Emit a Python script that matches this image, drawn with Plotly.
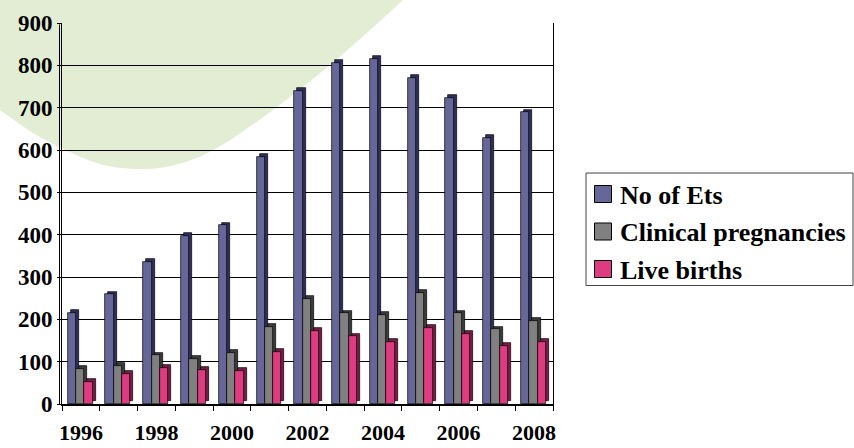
import plotly.graph_objects as go

# ---- data -------------------------------------------------------------
years = [1996, 1997, 1998, 1999, 2000, 2001, 2002, 2003, 2004, 2005, 2006, 2007, 2008]
series_names = ["No of Ets", "Clinical pregnancies", "Live births"]
no_of_ets = [215, 259, 335, 398, 422, 583, 739, 806, 815, 771, 724, 628, 689]
clinical_pregnancies = [83, 90, 115, 106, 120, 182, 248, 214, 211, 263, 214, 176, 196]
live_births = [52, 71, 86, 80, 78, 124, 172, 160, 147, 180, 165, 137, 146]
y_ticks = [0, 100, 200, 300, 400, 500, 600, 700, 800, 900]

# ---- geometry / style -------------------------------------------------
W, H = 854, 448
L, R, T, B = 62, 301, 23, 44
PW, PH = W - L - R, H - T - B

def px(x):
    return (x - L) / PW

def py(y):
    return (H - B - y) / PH

FONT = "Liberation Serif"
BW = 0.22          # front face width (category units)
DX = 0.08          # depth shift to the right (category units)
DY = 6.5           # depth shift upward (value units)

styles = [
    # offset, front colour, depth colour
    (-0.24, "#666699", "#2f2f5c"),
    (-0.02, "#808080", "#3c3c3c"),
    (0.20, "#DD3C80", "#7a1d46"),
]
all_values = [no_of_ets, clinical_pregnancies, live_births]

idx = list(range(len(years)))
fig = go.Figure()

for name, values, (off, face, depth) in zip(series_names, all_values, styles):
    # depth (side + top) drawn first, front face on top of it
    fig.add_bar(
        x=[i + off + DX for i in idx], y=values, base=[DY] * len(values),
        width=BW, marker=dict(color=depth, line=dict(color="black", width=0.7)),
        showlegend=False, hoverinfo="skip",
    )
    fig.add_bar(
        x=[i + off for i in idx], y=values, width=BW, name=name,
        marker=dict(color=face, line=dict(color="black", width=0.7)),
        showlegend=False,
    )

# ---- decorative background curve (smoothed with Catmull-Rom) ----------
knots = [(-20, 95), (0, 110), (33, 133), (63, 149), (100, 164), (137, 169),
         (175, 165), (217, 148), (277, 107), (330, 65), (378, 23), (403, 0),
         (420, -15)]

def smooth(points, steps=12):
    out = []
    for k in range(1, len(points) - 2):
        p0, p1, p2, p3 = points[k - 1], points[k], points[k + 1], points[k + 2]
        for s in range(steps):
            t = s / steps
            t2, t3 = t * t, t * t * t
            out.append(tuple(
                0.5 * (2 * p1[j] + (-p0[j] + p2[j]) * t
                       + (2 * p0[j] - 5 * p1[j] + 4 * p2[j] - p3[j]) * t2
                       + (-p0[j] + 3 * p1[j] - 3 * p2[j] + p3[j]) * t3)
                for j in range(2)))
    out.append(points[-2])
    return out

path = "M {:.5f},{:.5f} ".format(px(0), py(0))
for cx, cy in smooth(knots):
    path += "L {:.5f},{:.5f} ".format(px(cx), py(cy))
path += "Z"

shapes = [
    dict(type="path", path=path, xref="paper", yref="paper",
         fillcolor="#E3EDD4", line=dict(width=0), layer="below"),
    # second line of the left wall
    dict(type="line", xref="paper", yref="paper",
         x0=px(59.5), x1=px(59.5), y0=py(404), y1=py(24.5),
         line=dict(color="black", width=1)),
    # legend box
    dict(type="rect", xref="paper", yref="paper",
         x0=px(586), x1=px(853), y0=py(173), y1=py(285.5),
         line=dict(color="#444444", width=1), fillcolor="white"),
]
annotations = []
row_y = [194, 231.5, 269]
for name, (off, face, depth), yy in zip(series_names, styles, row_y):
    shapes.append(dict(type="rect", xref="paper", yref="paper",
                       x0=px(594.5), x1=px(611.5), y0=py(yy - 8.5), y1=py(yy + 8.5),
                       fillcolor=face, line=dict(color="black", width=1)))
    annotations.append(dict(text="<b>" + name + "</b>", xref="paper", yref="paper",
                            x=px(618), y=py(yy + 1), xanchor="left", yanchor="middle",
                            showarrow=False,
                            font=dict(family=FONT, size=26, color="black")))

fig.update_layout(
    width=W, height=H,
    margin=dict(l=L, r=R, t=T, b=B, autoexpand=False),
    font=dict(family=FONT, color="black"),
    paper_bgcolor="white", plot_bgcolor="rgba(0,0,0,0)",
    barmode="overlay", bargap=0,
    showlegend=False,
    shapes=shapes, annotations=annotations,
    xaxis=dict(
        range=[-0.5, len(years) - 0.5],
        tickvals=[i for i in idx if i % 2 == 0],
        ticktext=["<b>%d</b>" % years[i] for i in idx if i % 2 == 0],
        ticks="outside", ticklen=8, tickcolor="rgba(0,0,0,0)",
        minor=dict(tickvals=[i - 0.5 for i in range(len(years) + 1)],
                   ticks="outside", ticklen=5, tickcolor="black", tickwidth=1),
        showgrid=False, zeroline=False, automargin=False,
        showline=True, linecolor="black", linewidth=2,
        tickfont=dict(family=FONT, size=22, color="black"),
        fixedrange=True,
    ),
    yaxis=dict(
        range=[0, 900], tickvals=y_ticks,
        ticktext=["<b>%d</b>" % v for v in y_ticks],
        showgrid=True, gridcolor="black", gridwidth=1,
        ticks="outside", ticklen=4, tickcolor="black",
        showline=True, linecolor="black", linewidth=1, mirror=True,
        zeroline=False, automargin=False,
        tickfont=dict(family=FONT, size=23, color="black"),
        fixedrange=True,
    ),
)

fig.write_html("out.html")
